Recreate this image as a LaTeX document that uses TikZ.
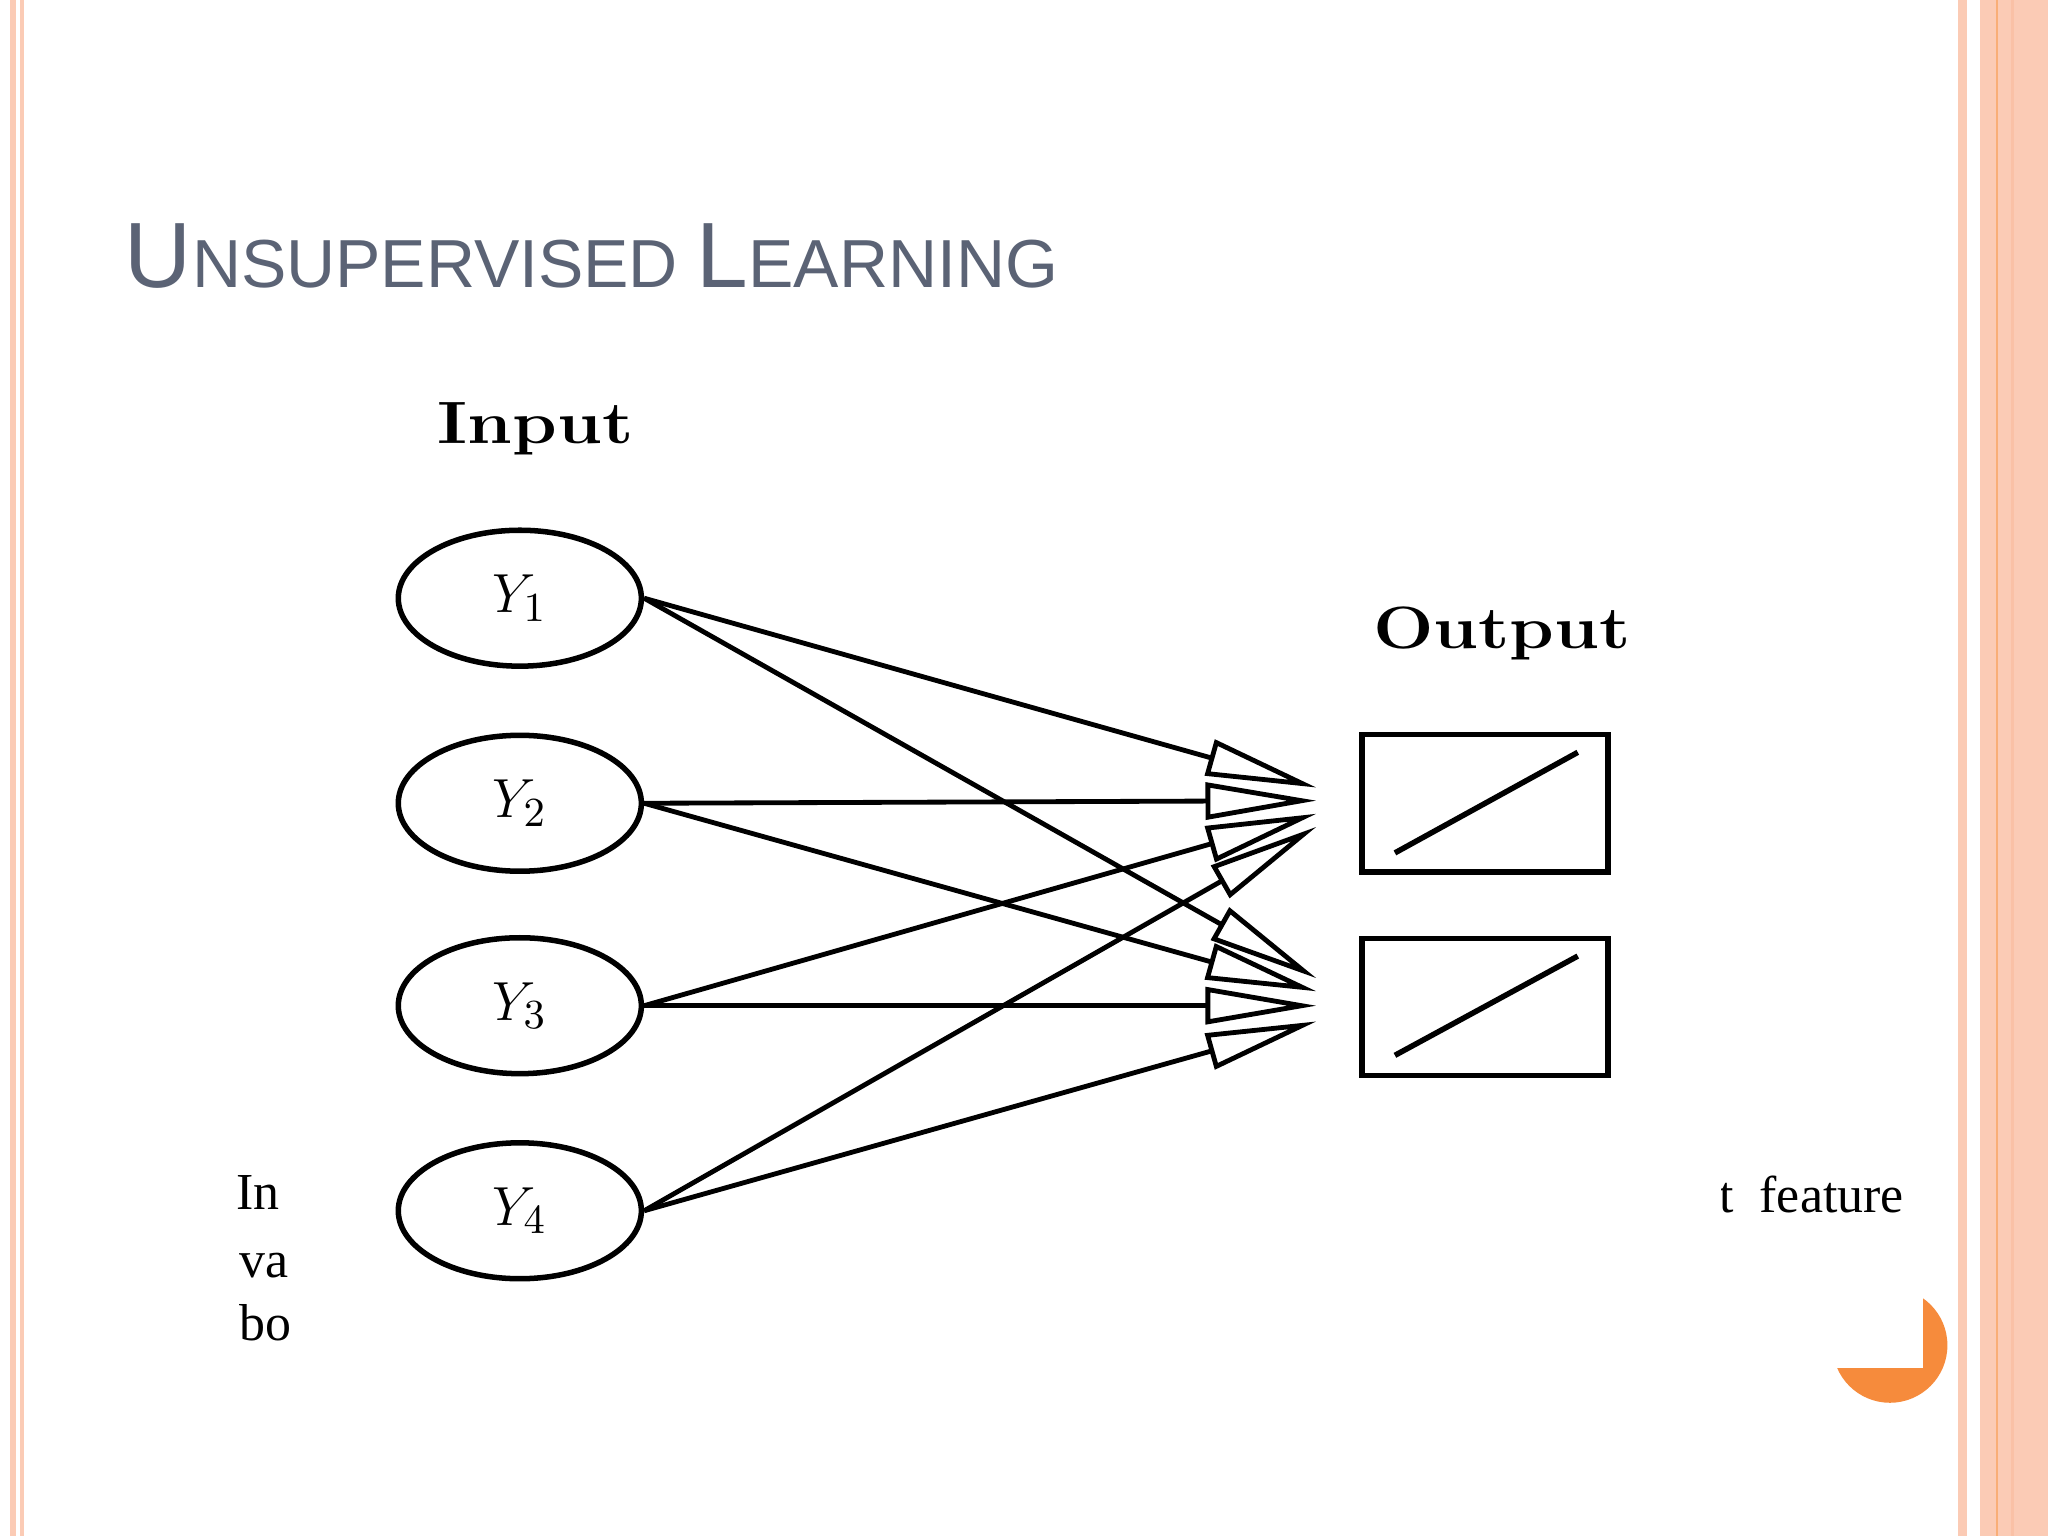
\documentclass[tikz,border=0pt]{standalone}
\usepackage{fontspec}
\setmainfont{Liberation Serif}
\newfontfamily\titlefont{Liberation Sans}
\newfontfamily\lmfont{Latin Modern Roman}
\usetikzlibrary{arrows.meta,shapes.geometric}
\definecolor{salmon}{HTML}{FBCBB5}
\definecolor{orng}{HTML}{F68B3C}
\definecolor{titlec}{HTML}{5B6375}
\begin{document}
\begin{tikzpicture}[x=0.01cm,y=-0.01cm,
  inp/.style={ellipse,draw,line width=1.2pt,minimum width=1.86cm,minimum height=1.04cm,font=\fontsize{13}{15}\selectfont},
  box/.style={draw,line width=1.2pt,minimum width=1.88cm,minimum height=1.05cm},
  con/.style={line width=1.05pt,-{Triangle[open,fill=white,length=0.85cm,width=0.28cm,line width=1.05pt]}},
  lbl/.style={font=\fontsize{13}{15}\selectfont\lmfont\bfseries},
  body/.style={font=\fontsize{11.3}{14}\selectfont,anchor=base west}]
\useasboundingbox (0,0) rectangle (1568,1176);
\fill[white] (0,0) rectangle (1568,1176);
% borders
\fill[salmon] (8,0) rectangle (12,1176);
\fill[salmon] (15,0) rectangle (18,1176);
\fill[salmon] (1499,0) rectangle (1506,1176);
\fill[salmon] (1516,0) rectangle (1568,1176);
\fill[orng!70] (1528,0) rectangle (1530,1176);
\fill[salmon!120] (1540,0) rectangle (1542,1176);
% title
\node[anchor=base west,text=titlec,inner sep=0] (title) at (95,220)
  {\titlefont\fontsize{20.2}{24}\selectfont U\fontsize{14.8}{18}\selectfont NSUPERVISED \fontsize{20.2}{24}\selectfont L\fontsize{14.8}{18}\selectfont EARNING};
% body text fragments
\node[body,inner sep=0] (t1) at (180,926) {In};
\node[body,inner sep=0] (t2) at (183,978) {va:};
\node[body,inner sep=0] (t3) at (183,1026) {bo};
\node[body,inner sep=0] (t4) at (1298,928) {ct\ \ feature};
\fill[white] (222,290) rectangle (1318,1030);
% orange mark
\fill[orng] (1447,1030) circle (44);
\fill[white] (1400,980) rectangle (1472,1047);
% diagram
\node[lbl] (inlab) at (410,328) {\scalebox{1.2}[1]{Input}};
\node[lbl] (outlab) at (1150,485) {\scalebox{1.2}[1]{Output}};
\node[inp] (y1) at (398,458) {$Y_1$};
\node[inp] (y2) at (398,615) {$Y_2$};
\node[inp] (y3) at (398,770) {$Y_3$};
\node[inp] (y4) at (398,927) {$Y_4$};
\node[box] (o1) at (1137,615) {};
\node[box] (o2) at (1137,771) {};
\draw[line width=1.2pt] (1068,653) -- (1208,576);
\draw[line width=1.2pt] (1068,808) -- (1208,732);
\coordinate (a1) at (1008,603);
\coordinate (a2) at (1008,613);
\coordinate (a3) at (1008,623);
\coordinate (a4) at (1008,633);
\coordinate (b1) at (1008,749);
\coordinate (b2) at (1008,759);
\coordinate (b3) at (1008,770);
\coordinate (b4) at (1008,782);
\draw[con] (y1.east) -- (a1);
\draw[con] (y2.east) -- (a2);
\draw[con] (y3.east) -- (a3);
\draw[con] (y4.east) -- (a4);
\draw[con] (y1.east) -- (b1);
\draw[con] (y2.east) -- (b2);
\draw[con] (y3.east) -- (b3);
\draw[con] (y4.east) -- (b4);
\end{tikzpicture}
\end{document}
